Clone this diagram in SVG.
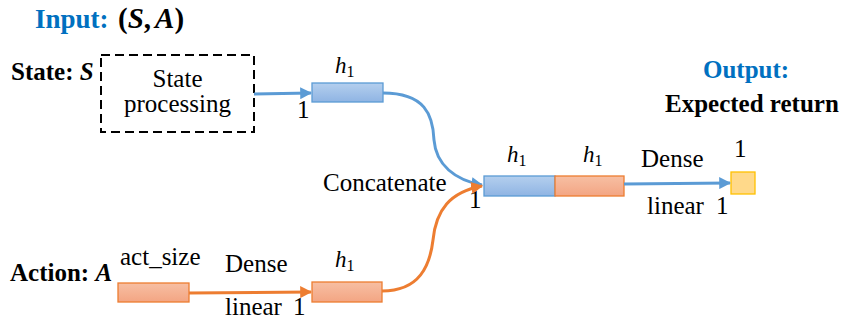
<svg xmlns="http://www.w3.org/2000/svg" width="841" height="325" viewBox="0 0 841 325" font-family="'Liberation Serif', 'DejaVu Serif', serif">
<style>
text{font-family:"Liberation Serif","DejaVu Serif",serif;fill:#000;font-size:25px}
.b{font-weight:bold}
.ti{font-size:27px;font-weight:bold}
.blue{fill:#0070C0}
.i{font-style:italic}
.h{font-size:23px}
.s{font-size:16px;font-style:normal}
.bbox{fill:url(#gb);stroke:#5B9BD5;stroke-width:1.3}
.obox{fill:url(#go);stroke:#ED7D31;stroke-width:1.3}
.bl{fill:none;stroke:#5B9BD5;stroke-width:3}
.ol{fill:none;stroke:#ED7D31;stroke-width:3}
</style>
<defs>
<linearGradient id="gb" x1="0" y1="0" x2="0" y2="1"><stop offset="0" stop-color="#B4CFEE"/><stop offset="1" stop-color="#8FB4E3"/></linearGradient>
<linearGradient id="go" x1="0" y1="0" x2="0" y2="1"><stop offset="0" stop-color="#F7BFA3"/><stop offset="1" stop-color="#F3A583"/></linearGradient>
<marker id="ab" viewBox="0 0 10 10" refX="9" refY="5" markerWidth="4" markerHeight="4" markerUnits="strokeWidth" orient="auto"><path d="M0,0L10,5L0,10z" fill="#5B9BD5"/></marker>
<marker id="ao" viewBox="0 0 10 10" refX="9" refY="5" markerWidth="4" markerHeight="4" markerUnits="strokeWidth" orient="auto"><path d="M0,0L10,5L0,10z" fill="#ED7D31"/></marker>
</defs>

<g id="title">
<text x="35" y="28" class="ti"><tspan class="blue">Input:</tspan><tspan x="118" font-size="29">(</tspan><tspan class="i" font-size="29">S</tspan><tspan font-size="29">,</tspan><tspan class="i" font-size="29" dx="4">A</tspan><tspan font-size="29">)</tspan></text>
</g>
<g id="state-label"><text x="11" y="80" class="b">State: <tspan class="i">S</tspan></text></g>
<g id="state-processing">
<rect x="101" y="55" width="153" height="77" fill="none" stroke="#000" stroke-width="2" stroke-dasharray="9,5"/>
<text x="177.5" y="87" text-anchor="middle">State</text>
<text x="177.5" y="112" text-anchor="middle">processing</text>
</g>
<g id="state-h1">
<rect x="312" y="83" width="71" height="19" class="bbox"/>
<text x="335" y="73" class="h i">h<tspan class="s" dy="4">1</tspan></text>
<text x="297" y="118">1</text>
</g>
<g id="concat">
<rect x="484" y="176" width="71" height="20" class="bbox"/>
<rect x="555" y="176" width="69" height="20" class="obox"/>
<text x="507" y="162" class="h i">h<tspan class="s" dy="4">1</tspan></text>
<text x="583" y="162" class="h i">h<tspan class="s" dy="4">1</tspan></text>
<text x="323" y="191">Concatenate</text>
<text x="469" y="208">1</text>
</g>
<g id="output">
<rect x="731" y="172" width="24" height="22" fill="#FFD98A" stroke="#FFC000" stroke-width="1.3"/>
<text x="734" y="157">1</text>
<text x="703" y="78" class="blue b" font-size="28">Output:</text>
<text x="665" y="112" class="b">Expected return</text>
<text x="641" y="167">Dense</text>
<text x="647" y="214">linear</text>
<text x="716" y="214">1</text>
</g>
<g id="action-label"><text x="10" y="281" class="b">Action: <tspan class="i">A</tspan></text></g>
<g id="action-input">
<rect x="118" y="283" width="71" height="19" class="obox"/>
<text x="120" y="265">act_size</text>
</g>
<g id="action-h1">
<rect x="312" y="282" width="70" height="20" class="obox"/>
<text x="335" y="267" class="h i">h<tspan class="s" dy="4">1</tspan></text>
</g>
<g id="action-labels">
<text x="225" y="272">Dense</text>
<text x="225" y="315">linear</text>
<text x="293" y="315">1</text>
</g>
<g id="connectors">
<path d="M254,94 L311,93" class="bl" marker-end="url(#ab)"/>
<path d="M383,93 C425,93 433,115 434,140 C436,165 455,180 482,185" class="bl" marker-end="url(#ab)"/>
<path d="M382,291 C420,291 430,265 433,240 C436,210 450,192 482,186" class="ol" marker-end="url(#ao)"/>
<path d="M189,293 L311,292" class="ol" marker-end="url(#ao)"/>
<path d="M624,184 L730,183" class="bl" marker-end="url(#ab)"/>
</g>
</svg>
